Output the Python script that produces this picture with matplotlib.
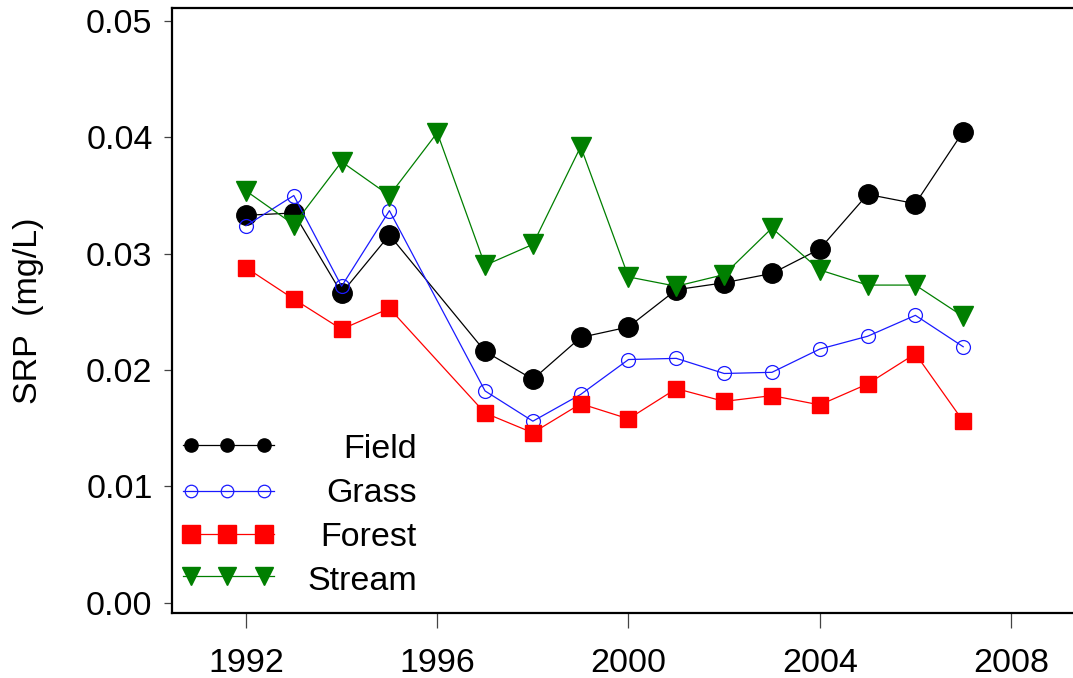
import matplotlib
matplotlib.use("Agg")
import matplotlib.pyplot as plt
import numpy as np

plt.rcParams['font.family'] = ['Liberation Sans', 'DejaVu Sans']

years_main = [1992, 1993, 1994, 1995, 1997, 1998, 1999, 2000, 2001, 2002, 2003, 2004, 2005, 2006, 2007]
years_stream = [1992, 1993, 1994, 1995, 1996, 1997, 1998, 1999, 2000, 2001, 2002, 2003, 2004, 2005, 2006, 2007]

field = [0.0333, 0.0335, 0.0266, 0.0316, 0.0216, 0.0192, 0.0228, 0.0237, 0.0269, 0.0275, 0.0283, 0.0304, 0.0351, 0.0343, 0.0405]
grass = [0.0324, 0.0350, 0.0272, 0.0337, 0.0182, 0.0156, 0.0179, 0.0209, 0.0210, 0.0197, 0.0198, 0.0218, 0.0229, 0.0247, 0.0220]
forest = [0.0288, 0.0261, 0.0235, 0.0253, 0.0163, 0.0146, 0.0171, 0.0158, 0.0184, 0.0173, 0.0178, 0.0170, 0.0188, 0.0214, 0.0156]
stream = [0.0354, 0.0325, 0.0379, 0.0350, 0.0404, 0.0290, 0.0308, 0.0392, 0.0280, 0.0272, 0.0282, 0.0322, 0.0286, 0.0273, 0.0273, 0.0246]

series_names = ["Field", "Grass", "Forest", "Stream"]
x_ticks = [1992, 1996, 2000, 2004, 2008]
y_ticks = [0.00, 0.01, 0.02, 0.03, 0.04, 0.05]

W, H = 1073, 678
fig = plt.figure(figsize=(W / 100, H / 100), dpi=100)
L, R, T, B = 172, 1073, 8, 613
ax = fig.add_axes([L / W, 1 - B / H, (R - L) / W, (B - T) / H])

BLUE = '#1a1aff'
GREEN = '#007f00'
RED = '#ff0000'
FS = 24.5

ax.plot(years_main, field, color='black', lw=0.9, marker='o', ms=14, mfc='black', mec='black', zorder=3)
ax.plot(years_main, grass, color=BLUE, lw=0.9, marker='o', ms=10, mfc='none', mec=BLUE, mew=0.9, zorder=4)
ax.plot(years_main, forest, color=RED, lw=0.9, marker='s', ms=11, mfc=RED, mec=RED, zorder=5)
ax.plot(years_stream, stream, color=GREEN, lw=0.9, marker='v', ms=14.5, mfc=GREEN, mec=GREEN, zorder=6)

ax.set_xlim(1992 - 74 / 47.83, 2008 + 62 / 47.83)
ax.set_ylim(-0.00089, 0.05112)

ax.set_xticks(x_ticks)
ax.set_xticklabels([str(x) for x in x_ticks])
ax.set_yticks(y_ticks)
ax.set_yticklabels([f"{v:.2f}" for v in y_ticks])

ax.tick_params(axis='both', direction='out', labelsize=FS, color='#444444', width=0.9)
ax.tick_params(axis='y', length=6, pad=8)
ax.tick_params(axis='x', length=11, pad=14.5)

for s in ['left', 'bottom', 'top']:
    ax.spines[s].set_linewidth(1.6)
ax.spines['right'].set_visible(False)

ax.set_ylabel("SRP  (mg/L)", fontsize=FS, labelpad=30)

# manual legend (right-aligned text)
def fx(px):
    return (px - L) / (R - L)

def fy(py):
    return (B - py) / (B - T)

leg_x = [fx(190.7), fx(227.3), fx(264.3)]
leg_line = [fx(183), fx(274)]
rows = [
    ("Field", 445.0, 450.0, dict(color='black', marker='o', ms=9.5, mfc='black', mec='black')),
    ("Grass", 490.7, 494.0, dict(color=BLUE, marker='o', ms=9, mfc='none', mec=BLUE, mew=0.9)),
    ("Forest", 534.0, 537.0, dict(color=RED, marker='s', ms=13, mfc=RED, mec=RED)),
    ("Stream", 575.8, 581.0, dict(color=GREEN, marker='v', ms=13, mfc=GREEN, mec=GREEN)),
]
for name, my, ty, style in rows:
    c = style['color']
    ax.plot(leg_line, [fy(my)] * 2, color=c, lw=0.9, transform=ax.transAxes, clip_on=False, zorder=7)
    st = dict(style)
    st.pop('color')
    ax.plot(leg_x, [fy(my)] * 3, ls='none', transform=ax.transAxes, clip_on=False, zorder=8, **st)
    ax.text(fx(417), fy(ty), name, ha='right', va='center', fontsize=FS, transform=ax.transAxes)

fig.savefig("out.png", dpi=100)
